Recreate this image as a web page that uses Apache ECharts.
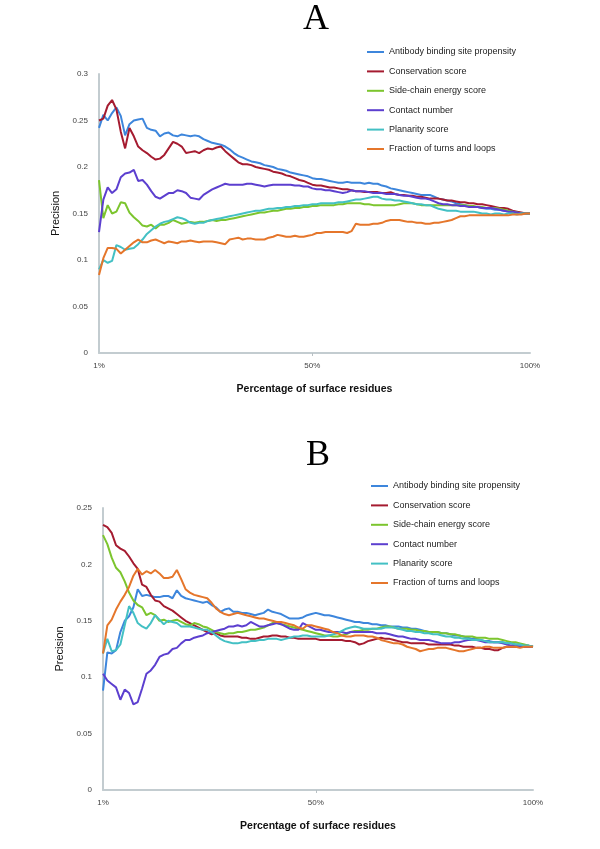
<!DOCTYPE html>
<html>
<head>
<meta charset="utf-8">
<script src="https://cdn.jsdelivr.net/npm/echarts@6/dist/echarts.min.js"></script>
<style>
html,body{margin:0;padding:0;background:#fff;}
#chart{width:600px;height:849px;}
</style>
</head>
<body>
<div id="chart"></div>
<script>
const seriesNames = ['Antibody binding site propensity','Conservation score','Side-chain energy score','Contact number','Planarity score','Fraction of turns and loops'];
const seriesColors = ['#3d86dc','#a51b30','#7cc52e','#5c3fcf','#43c0c4','#e5762b'];
const categories = [];
for (let i = 1; i <= 100; i++) categories.push(i + '%');
const shownXLabels = ['1%','50%','100%'];
const panelTitles = ['A','B'];
const yMaxA = 0.3, yMaxB = 0.25, yStep = 0.05;

const aAntibody = [0.242,0.256,0.250,0.258,0.264,0.255,0.234,0.246,0.250,0.251,
 0.252,0.242,0.240,0.239,0.233,0.236,0.237,0.234,0.233,0.235,
 0.234,0.233,0.234,0.233,0.230,0.228,0.226,0.225,0.224,0.222,
 0.219,0.215,0.212,0.210,0.208,0.206,0.205,0.204,0.202,0.201,
 0.200,0.198,0.197,0.196,0.194,0.193,0.192,0.191,0.190,0.188,
 0.187,0.187,0.186,0.185,0.184,0.183,0.183,0.184,0.183,0.183,
 0.183,0.182,0.183,0.182,0.182,0.180,0.179,0.177,0.176,0.175,
 0.174,0.173,0.172,0.171,0.170,0.170,0.170,0.168,0.166,0.165,
 0.164,0.163,0.161,0.160,0.159,0.158,0.157,0.157,0.156,0.155,
 0.155,0.154,0.154,0.153,0.152,0.151,0.151,0.150,0.150,0.150];
const aConservation = [0.250,0.252,0.266,0.272,0.262,0.238,0.220,0.242,0.233,0.222,
 0.218,0.215,0.211,0.208,0.209,0.213,0.220,0.227,0.225,0.222,
 0.215,0.216,0.217,0.215,0.218,0.220,0.219,0.221,0.222,0.217,
 0.213,0.209,0.205,0.203,0.203,0.202,0.200,0.199,0.198,0.197,
 0.195,0.194,0.193,0.191,0.190,0.188,0.186,0.185,0.183,0.181,
 0.180,0.180,0.179,0.178,0.178,0.177,0.176,0.176,0.175,0.174,
 0.174,0.173,0.173,0.173,0.173,0.172,0.172,0.173,0.171,0.170,
 0.170,0.169,0.169,0.168,0.168,0.167,0.166,0.166,0.166,0.165,
 0.164,0.164,0.163,0.162,0.162,0.161,0.161,0.160,0.160,0.159,
 0.158,0.157,0.156,0.156,0.155,0.153,0.152,0.151,0.150,0.150];
const aSideChain = [0.186,0.145,0.159,0.150,0.152,0.162,0.161,0.151,0.146,0.142,
 0.137,0.136,0.138,0.134,0.138,0.138,0.140,0.143,0.141,0.139,
 0.140,0.141,0.140,0.141,0.141,0.142,0.143,0.142,0.143,0.143,
 0.144,0.145,0.146,0.147,0.148,0.149,0.150,0.151,0.151,0.152,
 0.153,0.153,0.154,0.155,0.155,0.156,0.156,0.157,0.157,0.158,
 0.158,0.159,0.159,0.159,0.159,0.160,0.160,0.161,0.161,0.161,
 0.161,0.160,0.160,0.159,0.159,0.159,0.159,0.159,0.159,0.160,
 0.161,0.161,0.161,0.160,0.159,0.159,0.159,0.159,0.159,0.159,
 0.159,0.159,0.159,0.159,0.159,0.158,0.158,0.157,0.157,0.156,
 0.156,0.156,0.155,0.154,0.153,0.152,0.151,0.150,0.150,0.150];
const aContact = [0.130,0.165,0.178,0.172,0.176,0.189,0.193,0.194,0.197,0.185,
 0.186,0.181,0.174,0.168,0.166,0.169,0.172,0.172,0.175,0.174,
 0.172,0.167,0.166,0.165,0.170,0.173,0.176,0.178,0.180,0.182,
 0.181,0.181,0.181,0.181,0.182,0.182,0.181,0.180,0.179,0.180,
 0.181,0.181,0.181,0.181,0.181,0.180,0.180,0.179,0.179,0.177,
 0.176,0.176,0.175,0.175,0.174,0.173,0.172,0.173,0.175,0.174,
 0.174,0.174,0.173,0.172,0.172,0.172,0.171,0.171,0.171,0.170,
 0.169,0.169,0.168,0.167,0.166,0.166,0.165,0.163,0.161,0.160,
 0.160,0.159,0.159,0.158,0.158,0.157,0.157,0.157,0.156,0.156,
 0.156,0.155,0.154,0.153,0.152,0.152,0.151,0.150,0.150,0.150];
const aPlanarity = [0.090,0.100,0.097,0.099,0.116,0.114,0.111,0.112,0.113,0.117,
 0.122,0.128,0.132,0.136,0.139,0.141,0.142,0.144,0.146,0.145,
 0.143,0.140,0.139,0.140,0.140,0.142,0.143,0.144,0.145,0.146,
 0.147,0.148,0.149,0.150,0.151,0.152,0.153,0.153,0.154,0.155,
 0.155,0.156,0.156,0.157,0.157,0.158,0.158,0.159,0.159,0.160,
 0.160,0.161,0.161,0.161,0.161,0.162,0.162,0.163,0.164,0.165,
 0.165,0.166,0.167,0.168,0.168,0.166,0.165,0.165,0.164,0.164,
 0.163,0.162,0.161,0.160,0.160,0.159,0.159,0.157,0.155,0.154,
 0.153,0.153,0.153,0.152,0.152,0.152,0.152,0.151,0.150,0.150,
 0.149,0.150,0.150,0.149,0.150,0.150,0.149,0.150,0.150,0.150];
const aTurns = [0.084,0.102,0.113,0.113,0.112,0.107,0.111,0.115,0.119,0.122,
 0.119,0.119,0.121,0.122,0.120,0.118,0.120,0.119,0.118,0.120,
 0.120,0.121,0.120,0.119,0.120,0.120,0.120,0.119,0.118,0.117,
 0.122,0.123,0.124,0.122,0.123,0.123,0.122,0.122,0.122,0.124,
 0.125,0.127,0.126,0.125,0.125,0.126,0.125,0.125,0.126,0.127,
 0.129,0.129,0.130,0.130,0.130,0.130,0.130,0.129,0.131,0.139,
 0.138,0.138,0.138,0.139,0.139,0.140,0.142,0.143,0.143,0.143,
 0.142,0.141,0.141,0.140,0.140,0.139,0.139,0.140,0.140,0.141,
 0.142,0.143,0.145,0.147,0.147,0.148,0.148,0.148,0.148,0.148,
 0.148,0.148,0.148,0.148,0.148,0.149,0.149,0.149,0.150,0.150];

const bAntibody = [0.088,0.122,0.121,0.124,0.140,0.150,0.154,0.162,0.178,0.172,
 0.173,0.172,0.171,0.171,0.172,0.172,0.170,0.177,0.172,0.170,
 0.169,0.168,0.167,0.166,0.167,0.164,0.162,0.158,0.160,0.161,
 0.158,0.158,0.157,0.157,0.156,0.155,0.156,0.157,0.160,0.158,
 0.157,0.156,0.154,0.152,0.152,0.152,0.153,0.155,0.156,0.157,
 0.156,0.155,0.155,0.154,0.153,0.152,0.151,0.150,0.149,0.149,
 0.148,0.148,0.147,0.147,0.146,0.146,0.145,0.145,0.145,0.144,
 0.144,0.143,0.143,0.142,0.141,0.140,0.140,0.140,0.139,0.139,
 0.138,0.137,0.137,0.136,0.135,0.134,0.134,0.133,0.132,0.132,
 0.131,0.131,0.131,0.130,0.130,0.129,0.129,0.128,0.128,0.127];
const bConservation = [0.235,0.233,0.228,0.217,0.214,0.212,0.207,0.201,0.196,0.182,
 0.180,0.173,0.168,0.167,0.163,0.161,0.159,0.156,0.153,0.150,
 0.148,0.146,0.144,0.142,0.140,0.138,0.139,0.137,0.136,0.136,
 0.136,0.136,0.135,0.135,0.134,0.134,0.135,0.136,0.136,0.137,
 0.137,0.136,0.136,0.135,0.135,0.134,0.134,0.134,0.134,0.134,
 0.133,0.133,0.133,0.133,0.133,0.133,0.132,0.132,0.131,0.129,
 0.130,0.132,0.133,0.134,0.135,0.134,0.134,0.133,0.132,0.131,
 0.131,0.130,0.130,0.130,0.130,0.129,0.129,0.129,0.129,0.129,
 0.129,0.128,0.128,0.127,0.127,0.127,0.126,0.126,0.125,0.125,
 0.124,0.124,0.126,0.127,0.127,0.127,0.127,0.127,0.127,0.127];
const bSideChain = [0.226,0.218,0.206,0.197,0.193,0.185,0.175,0.168,0.164,0.162,
 0.155,0.157,0.155,0.150,0.151,0.149,0.150,0.151,0.149,0.147,
 0.146,0.148,0.147,0.145,0.144,0.142,0.140,0.139,0.138,0.139,
 0.139,0.140,0.140,0.141,0.142,0.142,0.143,0.144,0.146,0.148,
 0.148,0.147,0.146,0.145,0.144,0.143,0.142,0.141,0.140,0.139,
 0.138,0.137,0.137,0.136,0.136,0.137,0.138,0.140,0.141,0.141,
 0.142,0.142,0.143,0.143,0.144,0.145,0.145,0.144,0.143,0.143,
 0.143,0.142,0.142,0.141,0.141,0.140,0.140,0.140,0.139,0.139,
 0.138,0.138,0.137,0.136,0.136,0.136,0.135,0.135,0.135,0.134,
 0.134,0.134,0.133,0.132,0.131,0.131,0.130,0.129,0.128,0.127];
const bContact = [0.103,0.097,0.094,0.091,0.080,0.089,0.086,0.076,0.078,0.090,
 0.103,0.106,0.111,0.118,0.120,0.121,0.125,0.126,0.130,0.133,
 0.133,0.135,0.136,0.137,0.139,0.140,0.141,0.142,0.143,0.145,
 0.145,0.146,0.145,0.146,0.149,0.147,0.145,0.145,0.146,0.147,
 0.148,0.147,0.145,0.143,0.142,0.142,0.148,0.146,0.144,0.142,
 0.142,0.141,0.140,0.140,0.140,0.140,0.139,0.140,0.140,0.140,
 0.140,0.140,0.140,0.139,0.139,0.139,0.138,0.137,0.136,0.136,
 0.135,0.134,0.134,0.133,0.133,0.133,0.132,0.131,0.130,0.130,
 0.130,0.131,0.131,0.132,0.133,0.133,0.133,0.132,0.131,0.131,
 0.131,0.131,0.130,0.129,0.128,0.128,0.127,0.127,0.127,0.127];
const bPlanarity = [0.121,0.134,0.123,0.124,0.129,0.146,0.163,0.157,0.148,0.145,
 0.143,0.148,0.155,0.151,0.147,0.150,0.149,0.148,0.145,0.145,
 0.145,0.144,0.143,0.142,0.142,0.140,0.137,0.134,0.132,0.131,
 0.130,0.130,0.131,0.131,0.132,0.132,0.133,0.133,0.134,0.134,
 0.134,0.133,0.134,0.135,0.136,0.136,0.137,0.137,0.136,0.136,
 0.136,0.136,0.137,0.138,0.139,0.141,0.143,0.144,0.145,0.144,
 0.143,0.143,0.143,0.143,0.143,0.144,0.144,0.144,0.143,0.142,
 0.141,0.141,0.140,0.140,0.139,0.139,0.138,0.138,0.137,0.136,
 0.136,0.135,0.135,0.134,0.134,0.133,0.133,0.133,0.132,0.131,
 0.131,0.131,0.131,0.130,0.130,0.129,0.129,0.128,0.128,0.127];
const bTurns = [0.121,0.146,0.151,0.160,0.167,0.173,0.180,0.190,0.196,0.191,
 0.194,0.192,0.195,0.192,0.188,0.188,0.189,0.195,0.187,0.178,
 0.175,0.173,0.172,0.171,0.170,0.166,0.161,0.158,0.156,0.155,
 0.156,0.157,0.156,0.155,0.154,0.153,0.152,0.152,0.151,0.150,
 0.149,0.149,0.148,0.147,0.146,0.144,0.143,0.146,0.146,0.145,
 0.144,0.143,0.142,0.140,0.139,0.137,0.136,0.136,0.137,0.137,
 0.137,0.136,0.136,0.135,0.133,0.132,0.131,0.130,0.130,0.129,
 0.127,0.126,0.125,0.123,0.124,0.125,0.125,0.126,0.126,0.126,
 0.125,0.124,0.123,0.123,0.124,0.125,0.126,0.126,0.127,0.127,
 0.126,0.126,0.126,0.127,0.127,0.127,0.126,0.127,0.127,0.127];

const panelA = [aAntibody, aConservation, aSideChain, aContact, aPlanarity, aTurns];
const panelB = [bAntibody, bConservation, bSideChain, bContact, bPlanarity, bTurns];

const chart = echarts.init(document.getElementById('chart'), null, {renderer: 'canvas'});
const axisColor = '#c3ccd0';
const labelFont = {fontFamily: 'Liberation Sans', fontSize: 8, color: '#444'};

function xAxisFor(gridIndex) {
  return {
    type: 'category', gridIndex: gridIndex, data: categories, boundaryGap: false,
    axisLine: {lineStyle: {color: axisColor, width: 2}},
    axisTick: {show: true, interval: function (i) { return categories[i] === '50%'; }, length: 3, lineStyle: {color: '#b8c0c4'}},
    axisLabel: Object.assign({margin: 9, interval: function (i, v) { return shownXLabels.indexOf(v) >= 0; }, showMaxLabel: true}, labelFont),
    splitLine: {show: false},
    name: 'Percentage of surface residues', nameLocation: 'middle', nameGap: 31,
    nameTextStyle: {fontFamily: 'Liberation Sans', fontSize: 10.5, fontWeight: 'bold', color: '#111'}
  };
}
function yAxisFor(gridIndex, max) {
  return {
    type: 'value', gridIndex: gridIndex, min: 0, max: max, interval: yStep,
    axisLine: {show: true, lineStyle: {color: axisColor, width: 2}},
    axisTick: {show: false},
    splitLine: {show: false},
    axisLabel: Object.assign({margin: 11}, labelFont),
    name: 'Precision', nameLocation: 'middle', nameGap: 36, nameRotate: 90,
    nameTextStyle: {fontFamily: 'Liberation Sans', fontSize: 11, color: '#111'}
  };
}
function legendFor(left, top) {
  return {
    orient: 'vertical', left: left, top: top, padding: 0, icon: 'rect', itemWidth: 17, itemHeight: 2,
    itemGap: 7.4, selectedMode: false,
    textStyle: {fontFamily: 'Liberation Sans', fontSize: 9, color: '#222', lineHeight: 12},
    data: seriesNames
  };
}

const series = [];
[panelA, panelB].forEach(function (panel, p) {
  panel.forEach(function (vals, k) {
    series.push({
      name: seriesNames[k], type: 'line', xAxisIndex: p, yAxisIndex: p,
      data: vals, showSymbol: false, symbol: 'none',
      lineStyle: {color: seriesColors[k], width: 2}, itemStyle: {color: seriesColors[k]},
      emphasis: {disabled: true}
    });
  });
});

chart.setOption({
  animation: false,
  backgroundColor: '#fff',
  grid: [
    {left: 99, top: 74, width: 431, height: 279},
    {left: 103, top: 508, width: 430, height: 282}
  ],
  xAxis: [xAxisFor(0), xAxisFor(1)],
  yAxis: [yAxisFor(0, yMaxA), yAxisFor(1, yMaxB)],
  legend: [legendFor(367, 46), legendFor(371, 480)],
  graphic: [
    {type: 'text', x: 316, y: 2, style: {text: panelTitles[0], font: '36px "Liberation Serif"', fill: '#000', textAlign: 'center', textVerticalAlign: 'top'}},
    {type: 'text', x: 318, y: 438, style: {text: panelTitles[1], font: '36px "Liberation Serif"', fill: '#000', textAlign: 'center', textVerticalAlign: 'top'}}
  ],
  series: series
});
</script>
</body>
</html>
